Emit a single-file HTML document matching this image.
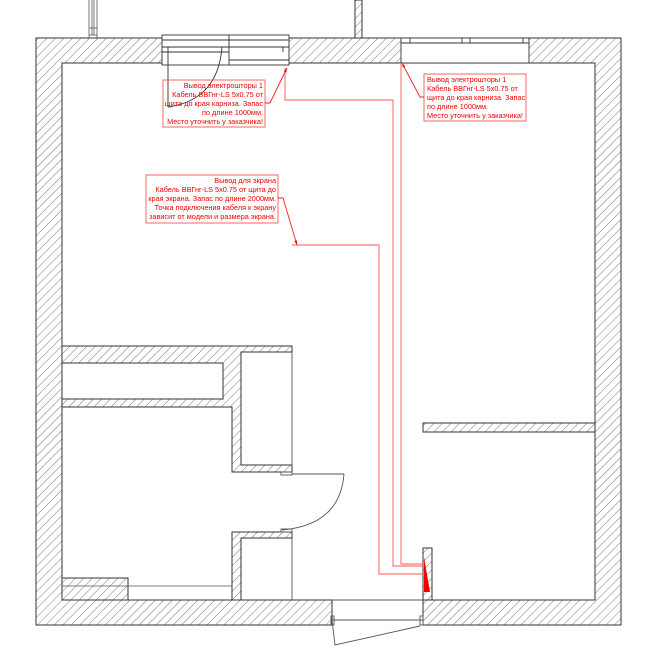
<!DOCTYPE html>
<html><head><meta charset="utf-8"><style>
html,body{margin:0;padding:0;background:#fff;width:650px;height:650px;overflow:hidden}
svg{display:block}
text{font-family:"Liberation Sans",sans-serif;font-size:7.3px;fill:#e00}
</style></head><body>
<svg width="650" height="650" viewBox="0 0 650 650" xmlns="http://www.w3.org/2000/svg">
<defs>
<pattern id="h" patternUnits="userSpaceOnUse" width="6" height="6" patternTransform="rotate(45)">
<rect width="6" height="6" fill="#fff"/><line x1="0" y1="0" x2="0" y2="6" stroke="#777" stroke-width="1"/>
</pattern>
<marker id="a" viewBox="0 0 10 10" refX="10" refY="5" markerWidth="5" markerHeight="5" orient="auto"><path d="M0,2 L10,5 L0,8 Z" fill="#e00"/></marker>
</defs>
<g fill="url(#h)" stroke="#333" stroke-width="1">
<path d="M36,38 H621 V625 H423 V600 H595 V63 H62 V600 H332 V625 H36 Z"/>
<rect x="423" y="423" width="172" height="9"/>
<rect x="423" y="548" width="9" height="52"/>
<path d="M62,346 H292 V352 H241 V465 H292 V472 H232 V407 H62 Z M62,363 V399 H223 V363 Z" fill-rule="evenodd"/>
<path d="M232,532 H292 V538 H241 V600 H232 Z"/>
<rect x="62" y="578" width="66" height="22"/>
<rect x="355" y="0" width="7" height="38"/>
</g>
<g stroke="#555" stroke-width="0.8" fill="none">
<line x1="89" y1="0" x2="89" y2="38"/><line x1="92" y1="0" x2="92" y2="35"/><line x1="94" y1="0" x2="94" y2="35"/><line x1="97" y1="0" x2="97" y2="38"/>
<line x1="89" y1="28" x2="97" y2="28"/><line x1="89" y1="35" x2="97" y2="35"/>
<line x1="62" y1="586" x2="232" y2="586"/>
</g>
<g fill="#fff" stroke="#333" stroke-width="0.9">
<rect x="162" y="35" width="127" height="30"/>
<line x1="229" y1="35" x2="229" y2="65"/>
<line x1="162" y1="40" x2="289" y2="40"/>
<line x1="162" y1="47" x2="289" y2="47"/>
<line x1="162" y1="52" x2="229" y2="52"/>
<line x1="229" y1="60" x2="289" y2="60"/>
<line x1="283" y1="47" x2="283" y2="52"/>
<line x1="168" y1="47" x2="168" y2="107"/>
<path d="M222,47 Q218,100 168,107" fill="none"/>
</g>
<g fill="#fff" stroke="#333" stroke-width="0.9">
<rect x="401" y="38" width="128" height="25"/>
<line x1="401" y1="43" x2="529" y2="43"/>
<line x1="410" y1="38" x2="410" y2="43"/><line x1="462" y1="38" x2="462" y2="43"/><line x1="470" y1="38" x2="470" y2="43"/><line x1="523" y1="38" x2="523" y2="43"/>
</g>
<g fill="none" stroke="#555" stroke-width="0.9">
<line x1="292" y1="352" x2="292" y2="465"/>
<line x1="292" y1="538" x2="292" y2="600"/>
<rect x="281" y="472" width="11" height="3"/>
<rect x="281" y="529" width="11" height="3"/>
<line x1="292" y1="474" x2="344" y2="474"/>
<path d="M344,474 Q340,525 282,530"/>
<line x1="332" y1="600" x2="423" y2="600"/>
<line x1="332" y1="620" x2="423" y2="620"/>
<path d="M332,620 L335,645 L420,626"/>
<rect x="331" y="616" width="3" height="9"/><rect x="420" y="616" width="3" height="9"/>
</g>
<g fill="none" stroke="#f55" stroke-width="0.9">
<polyline points="285,68 285,100 393,100 393,566 423,566"/>
<polyline points="401,63 401,564 423,564"/>
<polyline points="292,245 379,245 379,574 423,574"/>
<rect x="163" y="80" width="102" height="47"/>
<rect x="424" y="74" width="102" height="47"/>
<rect x="146" y="175" width="132" height="48"/>
<polyline points="265,103 270,103 287,68" stroke="#e22" marker-end="url(#a)"/>
<polyline points="424,97 420,97 402,63" stroke="#e22" marker-end="url(#a)"/>
<polyline points="278,198 283,198 297,245" stroke="#e22" marker-end="url(#a)"/>
</g>
<polygon points="424,557 430,592 424,592" fill="#e00"/>
<g>
<text x="263" y="88" text-anchor="end">Вывод электрошторы 1</text>
<text x="263" y="97" text-anchor="end">Кабель ВВГнг-LS 5х0.75 от</text>
<text x="263" y="106" text-anchor="end">щита до края карниза. Запас</text>
<text x="263" y="115" text-anchor="end">по длине 1000мм.</text>
<text x="263" y="124" text-anchor="end">Место уточнить у заказчика!</text>
<text x="427" y="82">Вывод электрошторы 1</text>
<text x="427" y="91">Кабель ВВГнг-LS 5х0.75 от</text>
<text x="427" y="100">щита до края карниза. Запас</text>
<text x="427" y="109">по длине 1000мм.</text>
<text x="427" y="118">Место уточнить у заказчика!</text>
<text x="276" y="183" text-anchor="end">Вывод для экрана</text>
<text x="276" y="192" text-anchor="end">Кабель ВВГнг-LS 5х0.75 от щита до</text>
<text x="276" y="201" text-anchor="end">края экрана. Запас по длине 2000мм.</text>
<text x="276" y="210" text-anchor="end">Точка подключения кабеля к экрану</text>
<text x="276" y="219" text-anchor="end">зависит от модели и размера экрана.</text>
</g>
</svg>
</body></html>
